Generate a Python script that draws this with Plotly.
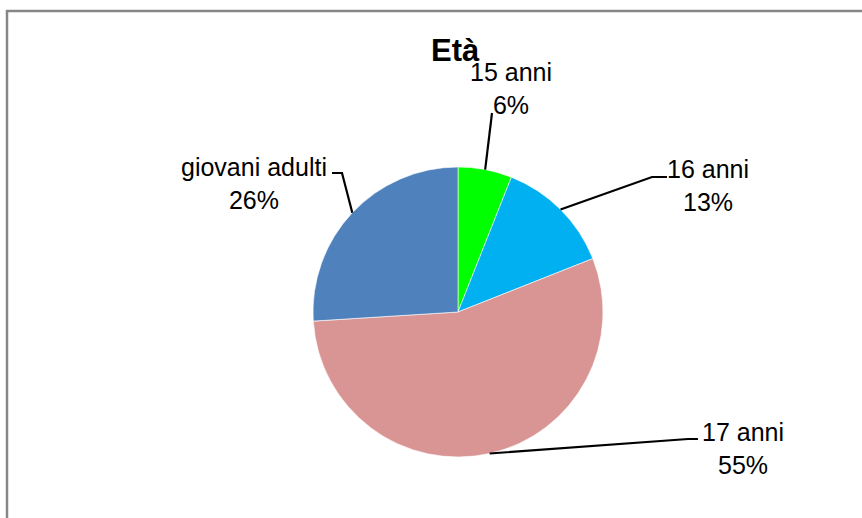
import math
import plotly.graph_objects as go

# ---- data ----
categories = ["15 anni", "16 anni", "17 anni", "giovani adulti"]
percent_values = [6, 13, 55, 26]
slice_colors = ["#00FF00", "#00B0F0", "#D99594", "#4F81BD"]
title_text = "Età"

W, H = 862, 518
CX, CY, R = 458, 312, 145  # pie center and radius in pixels

# label layout (pixel positions of label block centers and elbow points)
label_pos = {
    "15 anni": dict(x=511, y=88, elbow=None, end=(492, 113)),
    "16 anni": dict(x=708, y=186, elbow=(652, 177), end=(667, 177)),
    "17 anni": dict(x=743, y=448, elbow=(688, 439), end=(698, 439)),
    "giovani adulti": dict(x=254, y=183, elbow=(342, 173), end=(332, 173)),
}

def px(x):
    return x / W

def py(y):
    return 1 - y / H

fig = go.Figure()
fig.add_trace(go.Pie(
    labels=categories,
    values=percent_values,
    sort=False,
    direction="clockwise",
    rotation=0,
    marker=dict(colors=slice_colors, line=dict(color="white", width=0.6)),
    textinfo="none",
    hoverinfo="label+percent",
    showlegend=False,
    domain=dict(x=[px(CX - R), px(CX + R)], y=[py(CY + R), py(CY - R)]),
))

total = sum(percent_values)
cum = 0
shapes = []
annotations = []
for cat, val in zip(categories, percent_values):
    mid = (cum + val / 2) / total * 2 * math.pi
    cum += val
    ex = CX + R * math.sin(mid)
    ey = CY - R * math.cos(mid)
    lp = label_pos[cat]
    pts = [(ex, ey)]
    if lp["elbow"]:
        pts.append(lp["elbow"])
    pts.append(lp["end"])
    path = "M " + " L ".join(f"{px(a):.5f},{py(b):.5f}" for a, b in pts)
    shapes.append(dict(type="path", xref="paper", yref="paper", path=path,
                       line=dict(color="black", width=2.2)))
    pct = round(val / total * 100)
    annotations.append(dict(
        x=px(lp["x"]), y=py(lp["y"]), xref="paper", yref="paper",
        text=f"{cat}<br>{pct}%", showarrow=False, align="center",
        xanchor="center", yanchor="middle",
        font=dict(family="Liberation Sans, Arial, sans-serif", size=25, color="#000000"),
    ))

# title
annotations.append(dict(
    x=px(455), y=py(50), xref="paper", yref="paper", text=f"<b>{title_text}</b>",
    showarrow=False, xanchor="center", yanchor="middle",
    font=dict(family="Liberation Sans, Arial, sans-serif", size=31, color="#000000"),
))

# chart-area border (open on right/bottom beyond the frame)
shapes.append(dict(type="path", xref="paper", yref="paper",
                   path=f"M {px(7)},{py(H + 5)} L {px(7)},{py(11)} L {px(W + 5)},{py(11)}",
                   line=dict(color="#878787", width=2.5)))

fig.update_layout(
    width=W, height=H,
    margin=dict(l=0, r=0, t=0, b=0),
    paper_bgcolor="white", plot_bgcolor="white",
    shapes=shapes, annotations=annotations,
)
fig.write_html("out.html", config={"displayModeBar": False},
               post_script="document.body.style.margin='0';")
